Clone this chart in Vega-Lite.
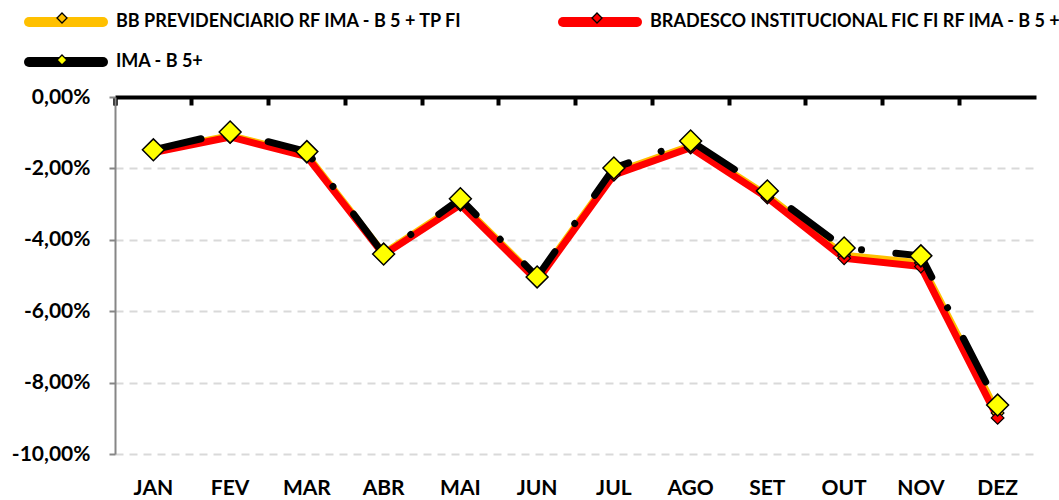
{
  "$schema": "https://vega.github.io/schema/vega-lite/v6.json",
  "width": 921,
  "height": 357,
  "autosize": {"type": "none"},
  "padding": {"left": 115, "top": 97, "right": 23, "bottom": 46},
  "config": {
    "locale": {"number": {"decimal": ",", "thousands": ".", "grouping": [3], "currency": ["R$", ""], "minus": "-"}},
    "font": "Lato",
    "view": {"stroke": null}
  },
  "data": {
    "values": [
      {"mes": "JAN", "serie": "BB PREVIDENCIARIO RF IMA - B 5 + TP FI", "valor": -0.0152},
      {"mes": "FEV", "serie": "BB PREVIDENCIARIO RF IMA - B 5 + TP FI", "valor": -0.0108},
      {"mes": "MAR", "serie": "BB PREVIDENCIARIO RF IMA - B 5 + TP FI", "valor": -0.0162},
      {"mes": "ABR", "serie": "BB PREVIDENCIARIO RF IMA - B 5 + TP FI", "valor": -0.0438},
      {"mes": "MAI", "serie": "BB PREVIDENCIARIO RF IMA - B 5 + TP FI", "valor": -0.0297},
      {"mes": "JUN", "serie": "BB PREVIDENCIARIO RF IMA - B 5 + TP FI", "valor": -0.0510},
      {"mes": "JUL", "serie": "BB PREVIDENCIARIO RF IMA - B 5 + TP FI", "valor": -0.0212},
      {"mes": "AGO", "serie": "BB PREVIDENCIARIO RF IMA - B 5 + TP FI", "valor": -0.0137},
      {"mes": "SET", "serie": "BB PREVIDENCIARIO RF IMA - B 5 + TP FI", "valor": -0.0276},
      {"mes": "OUT", "serie": "BB PREVIDENCIARIO RF IMA - B 5 + TP FI", "valor": -0.0443},
      {"mes": "NOV", "serie": "BB PREVIDENCIARIO RF IMA - B 5 + TP FI", "valor": -0.0465},
      {"mes": "DEZ", "serie": "BB PREVIDENCIARIO RF IMA - B 5 + TP FI", "valor": -0.0885},
      {"mes": "JAN", "serie": "BRADESCO INSTITUCIONAL FIC FI RF IMA - B 5 +", "valor": -0.0156},
      {"mes": "FEV", "serie": "BRADESCO INSTITUCIONAL FIC FI RF IMA - B 5 +", "valor": -0.0112},
      {"mes": "MAR", "serie": "BRADESCO INSTITUCIONAL FIC FI RF IMA - B 5 +", "valor": -0.0167},
      {"mes": "ABR", "serie": "BRADESCO INSTITUCIONAL FIC FI RF IMA - B 5 +", "valor": -0.0442},
      {"mes": "MAI", "serie": "BRADESCO INSTITUCIONAL FIC FI RF IMA - B 5 +", "valor": -0.0302},
      {"mes": "JUN", "serie": "BRADESCO INSTITUCIONAL FIC FI RF IMA - B 5 +", "valor": -0.0515},
      {"mes": "JUL", "serie": "BRADESCO INSTITUCIONAL FIC FI RF IMA - B 5 +", "valor": -0.0218},
      {"mes": "AGO", "serie": "BRADESCO INSTITUCIONAL FIC FI RF IMA - B 5 +", "valor": -0.0142},
      {"mes": "SET", "serie": "BRADESCO INSTITUCIONAL FIC FI RF IMA - B 5 +", "valor": -0.0282},
      {"mes": "OUT", "serie": "BRADESCO INSTITUCIONAL FIC FI RF IMA - B 5 +", "valor": -0.0452},
      {"mes": "NOV", "serie": "BRADESCO INSTITUCIONAL FIC FI RF IMA - B 5 +", "valor": -0.0475},
      {"mes": "DEZ", "serie": "BRADESCO INSTITUCIONAL FIC FI RF IMA - B 5 +", "valor": -0.0899},
      {"mes": "JAN", "serie": "IMA - B 5+", "valor": -0.0148},
      {"mes": "FEV", "serie": "IMA - B 5+", "valor": -0.0098},
      {"mes": "MAR", "serie": "IMA - B 5+", "valor": -0.0153},
      {"mes": "ABR", "serie": "IMA - B 5+", "valor": -0.0440},
      {"mes": "MAI", "serie": "IMA - B 5+", "valor": -0.0285},
      {"mes": "JUN", "serie": "IMA - B 5+", "valor": -0.0504},
      {"mes": "JUL", "serie": "IMA - B 5+", "valor": -0.0199},
      {"mes": "AGO", "serie": "IMA - B 5+", "valor": -0.0123},
      {"mes": "SET", "serie": "IMA - B 5+", "valor": -0.0263},
      {"mes": "OUT", "serie": "IMA - B 5+", "valor": -0.0423},
      {"mes": "NOV", "serie": "IMA - B 5+", "valor": -0.0445},
      {"mes": "DEZ", "serie": "IMA - B 5+", "valor": -0.0863}
    ]
  },
  "resolve": {"axis": {"x": "independent"}, "legend": {"fill": "independent"}},
  "layer": [
    {
      "transform": [{"filter": "datum.serie !== 'IMA - B 5+'"}],
      "mark": {"type": "line", "strokeWidth": 7, "strokeJoin": "round", "strokeCap": "round"},
      "encoding": {
        "x": {
          "field": "mes", "type": "nominal",
          "sort": ["JAN", "FEV", "MAR", "ABR", "MAI", "JUN", "JUL", "AGO", "SET", "OUT", "NOV", "DEZ"],
          "scale": {"type": "band", "paddingInner": 0, "paddingOuter": 0},
          "axis": {"orient": "bottom", "title": null, "domain": false, "ticks": false, "grid": false, "labelAngle": 0,
                   "labelFontSize": 21, "labelFontWeight": "bold", "labelColor": "#000000", "labelPadding": 23}
        },
        "y": {
          "field": "valor", "type": "quantitative",
          "scale": {"domain": [-0.1, 0], "nice": false, "zero": false},
          "axis": {"title": null, "values": [-0.1, -0.08, -0.06, -0.04, -0.02, 0], "format": ".2%",
                   "labelFontSize": 21, "labelFontWeight": "bold", "labelColor": "#000000", "labelPadding": 19,
                   "domainColor": "#868686", "domainWidth": 2, "tickColor": "#868686", "tickWidth": 2, "tickSize": 6,
                   "grid": true, "gridColor": "#d9d9d9", "gridWidth": 2, "gridDash": [8, 6]}
        },
        "color": {
          "field": "serie", "type": "nominal",
          "scale": {"domain": ["BB PREVIDENCIARIO RF IMA - B 5 + TP FI", "BRADESCO INSTITUCIONAL FIC FI RF IMA - B 5 +", "IMA - B 5+"],
                    "range": ["#FFC000", "#FF0000", "#000000"]},
          "legend": {"orient": "none", "legendX": -64, "legendY": -90, "title": null, "direction": "horizontal", "columns": 2, "columnPadding": 80,
                     "rowPadding": 0, "padding": 0, "symbolType": "M-3.7,0L3.7,0", "symbolSize": 400, "symbolStrokeWidth": 10,
                     "symbolDash": [], "labelFontSize": 18, "labelFontWeight": "bold", "labelColor": "#000000",
                     "labelLimit": 700, "labelOffset": 35, "gridAlign": "each",
                     "encode": {"symbols": {"update": {"strokeCap": {"value": "round"}}}}}
        }
      }
    },
    {
      "transform": [{"filter": "datum.serie !== 'IMA - B 5+'"}],
      "mark": {"type": "point", "shape": "diamond", "filled": true, "size": 160, "stroke": "#000000", "strokeWidth": 1.2, "opacity": 1},
      "encoding": {
        "x": {"field": "mes", "type": "nominal", "sort": ["JAN", "FEV", "MAR", "ABR", "MAI", "JUN", "JUL", "AGO", "SET", "OUT", "NOV", "DEZ"], "axis": null},
        "y": {"field": "valor", "type": "quantitative"},
        "fill": {
          "field": "serie", "type": "nominal",
          "scale": {"domain": ["BB PREVIDENCIARIO RF IMA - B 5 + TP FI", "BRADESCO INSTITUCIONAL FIC FI RF IMA - B 5 +", "IMA - B 5+"],
                    "range": ["#FFC000", "#FF0000", "#FFFF00"]},
          "legend": {"orient": "none", "legendX": -64, "legendY": -90, "title": null, "direction": "horizontal", "columns": 2, "columnPadding": 478,
                     "rowPadding": 22, "padding": 0, "symbolType": "M0,-0.5L0.5,0L0,0.5L-0.5,0Z", "symbolSize": 400,
                     "symbolStrokeWidth": 1.3, "symbolStrokeColor": "#000000", "symbolOpacity": 1,
                     "labelFontSize": 18, "labelFontWeight": "bold", "labelExpr": "''",
                     "labelLimit": 700, "labelOffset": 35, "gridAlign": "each"}
        }
      }
    },
    {
      "transform": [{"filter": "datum.serie === 'IMA - B 5+'"}],
      "mark": {"type": "line", "strokeWidth": 7, "strokeCap": "round", "strokeJoin": "round", "strokeDash": [49, 34.5, 0.01, 34.5]},
      "encoding": {
        "x": {
          "field": "mes", "type": "nominal",
          "sort": ["JAN", "FEV", "MAR", "ABR", "MAI", "JUN", "JUL", "AGO", "SET", "OUT", "NOV", "DEZ"],
          "axis": {"orient": "top", "title": null, "labels": false, "grid": false, "domain": true, "domainColor": "#000000",
                   "domainWidth": 4, "ticks": true, "tickColor": "#000000", "tickWidth": 4, "tickSize": -8,
                   "bandPosition": 0, "tickExtra": true}
        },
        "y": {"field": "valor", "type": "quantitative"},
        "color": {"field": "serie", "type": "nominal", "legend": null}
      }
    },
    {
      "transform": [{"filter": "datum.serie === 'IMA - B 5+'"}],
      "mark": {"type": "point", "shape": "diamond", "filled": true, "size": 480, "fill": "#FFFF00", "stroke": "#000000", "strokeWidth": 1.5, "opacity": 1},
      "encoding": {
        "x": {"field": "mes", "type": "nominal", "sort": ["JAN", "FEV", "MAR", "ABR", "MAI", "JUN", "JUL", "AGO", "SET", "OUT", "NOV", "DEZ"], "axis": null},
        "y": {"field": "valor", "type": "quantitative"}
      }
    }
  ]
}
